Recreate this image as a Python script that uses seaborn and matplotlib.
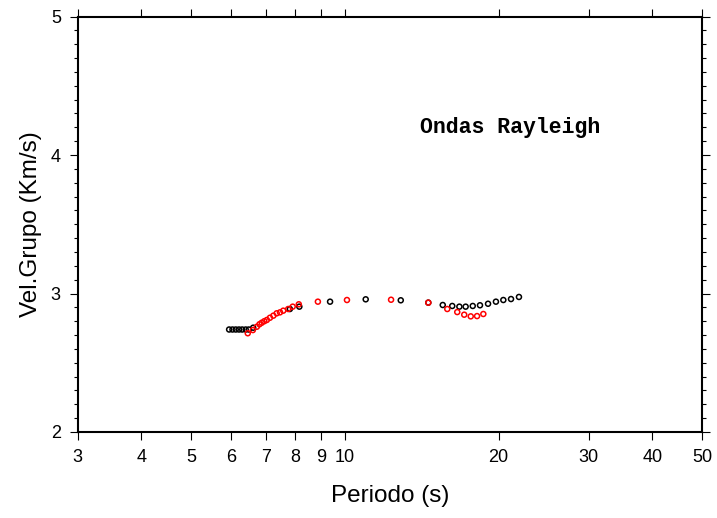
import numpy as np
import pandas as pd
import matplotlib
matplotlib.use("Agg")
import matplotlib.pyplot as plt
import seaborn as sns
from matplotlib.ticker import FixedLocator, NullLocator, MultipleLocator

# Black series (period s, group velocity km/s)
black_period = [5.94, 6.03, 6.12, 6.21, 6.30, 6.40, 6.49, 6.62, 7.81, 8.15,
                9.36, 10.99, 12.87, 14.57, 15.55, 16.23, 16.76, 17.24, 17.80,
                18.39, 19.07, 19.76, 20.43, 21.15, 21.92]
black_vel = [2.74, 2.74, 2.74, 2.74, 2.74, 2.74, 2.74, 2.753, 2.888, 2.905,
             2.941, 2.958, 2.951, 2.934, 2.917, 2.910, 2.905, 2.905, 2.910,
             2.915, 2.926, 2.941, 2.953, 2.960, 2.975]

# Red series
red_period = [6.46, 6.61, 6.73, 6.81, 6.88, 6.96, 7.04, 7.14, 7.25, 7.36, 7.47,
              7.58, 7.75, 7.91, 8.13, 8.86, 10.1, 12.32, 14.57, 15.87, 16.6,
              17.13, 17.64, 18.15, 18.67]
red_vel = [2.713, 2.736, 2.760, 2.778, 2.789, 2.800, 2.809, 2.825, 2.840, 2.857,
           2.864, 2.876, 2.888, 2.905, 2.922, 2.941, 2.953, 2.955, 2.934, 2.888,
           2.866, 2.847, 2.835, 2.837, 2.852]

x_ticks = [3, 4, 5, 6, 7, 8, 9, 10, 20, 30, 40, 50]
y_ticks = [2, 3, 4, 5]
title_text = "Ondas Rayleigh"
x_label = "Periodo (s)"
y_label = "Vel.Grupo (Km/s)"

sns.set_style("ticks")
plt.rcParams['font.family'] = ['Liberation Sans', 'DejaVu Sans']
plt.rcParams['text.color'] = 'black'
plt.rcParams['axes.labelcolor'] = 'black'

fig = plt.figure(figsize=(7.17, 5.18), dpi=100)
ax = fig.add_axes([77.5/717, (518-432)/518, (702-77.5)/717, (432-16.5)/518])

df_b = pd.DataFrame({"period": black_period, "vel": black_vel})
df_r = pd.DataFrame({"period": red_period, "vel": red_vel})

sns.scatterplot(data=df_b, x="period", y="vel", ax=ax, marker="o", s=13,
                facecolors="none", edgecolor="black", linewidth=1.1, zorder=3)
sns.scatterplot(data=df_r, x="period", y="vel", ax=ax, marker="o", s=13,
                facecolors="none", edgecolor="red", linewidth=1.1, zorder=4)

ax.set_xscale("log")
ax.set_xlim(3, 50)
ax.set_ylim(2, 5)
ax.xaxis.set_major_locator(FixedLocator(x_ticks))
ax.xaxis.set_minor_locator(NullLocator())
ax.set_xticklabels([str(t) for t in x_ticks])
ax.yaxis.set_major_locator(FixedLocator(y_ticks))
ax.yaxis.set_minor_locator(MultipleLocator(0.1))
ax.set_yticklabels([str(t) for t in y_ticks])

for sp in ax.spines.values():
    sp.set_visible(True)
    sp.set_linewidth(1.5)
    sp.set_color("black")

ax.tick_params(axis="both", which="major", direction="out", length=6, width=0.8,
               labelsize=13, pad=6, top=True, right=True, colors="black")
ax.tick_params(axis="y", which="minor", direction="out", length=3, width=0.8,
               left=True, right=True, colors="black")
ax.tick_params(labeltop=False, labelright=False)

ax.set_xlabel(x_label, fontsize=17.5, labelpad=14)
ax.set_ylabel(y_label, fontsize=17.5, labelpad=6)

ax.text(21.06, 4.195, title_text, fontsize=15.5, fontweight="bold", color="black",
        family=["Liberation Mono", "DejaVu Sans Mono"], ha="center", va="center")

fig.savefig("out.png", dpi=100)
